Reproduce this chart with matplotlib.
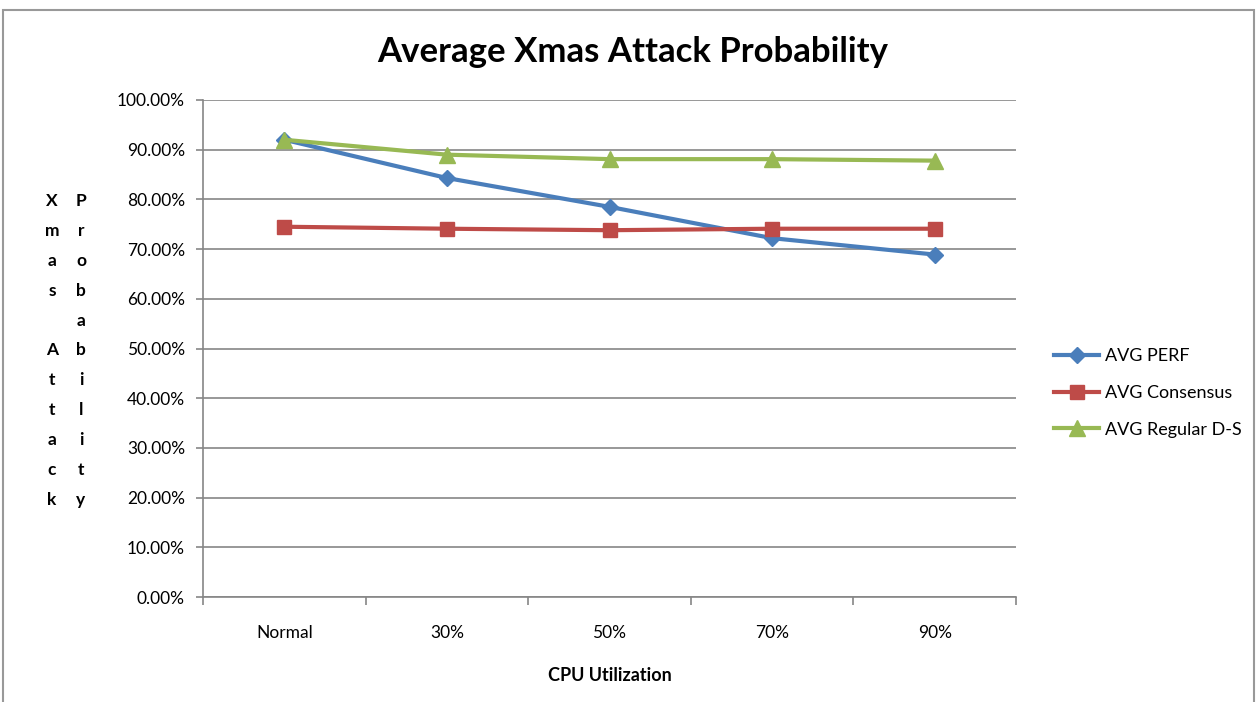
import numpy as np
import matplotlib.pyplot as plt
from matplotlib.patches import Rectangle
from matplotlib.ticker import FixedLocator, PercentFormatter

plt.rcParams['font.family'] = ['Lato', 'DejaVu Sans']

categories = ["Normal", "30%", "50%", "70%", "90%"]
avg_perf = [92.0, 84.3, 78.5, 72.2, 68.9]
avg_consensus = [74.5, 74.1, 73.8, 74.1, 74.1]
avg_regular = [92.0, 89.0, 88.1, 88.1, 87.8]

W, H = 1258, 702
fig = plt.figure(figsize=(W / 100, H / 100), dpi=100)
ax = fig.add_axes([203 / W, 1 - 597 / H, (1016 - 203) / W, (597 - 100) / H])

x = np.arange(len(categories))
ax.plot(x, avg_perf, color="#4A7EBB", lw=3, marker="D", ms=8, label="AVG PERF")
ax.plot(x, avg_consensus, color="#BE4B48", lw=3, marker="s", ms=10, label="AVG Consensus")
ax.plot(x, avg_regular, color="#98B954", lw=3, marker="^", ms=11, label="AVG Regular D-S")

ax.set_xlim(-0.5, len(categories) - 0.5)
ax.set_ylim(0, 100)
ax.set_yticks(np.arange(0, 101, 10))
ax.yaxis.set_major_formatter(PercentFormatter(decimals=2))
ax.grid(axis="y", color="#868686", lw=1.2)
ax.set_axisbelow(True)

# category labels at centres, tick marks at boundaries
ax.set_xticks(x)
ax.set_xticklabels(categories)
ax.xaxis.set_minor_locator(FixedLocator(np.arange(-0.5, len(categories), 1)))
ax.tick_params(axis="x", which="major", length=0, pad=20, labelsize=12.5)
ax.tick_params(axis="x", which="minor", length=6, color="#868686", width=1.2)
ax.tick_params(axis="y", length=5, color="#868686", width=1.2, pad=8, labelsize=12.5)

for s in ["top", "right"]:
    ax.spines[s].set_visible(False)
for s in ["left", "bottom"]:
    ax.spines[s].set_color("#868686")
    ax.spines[s].set_linewidth(1.2)

fig.text(633 / W, 1 - 52 / H, "Average Xmas Attack Probability", ha="center", va="center",
         fontsize=25, fontweight="bold")
ax.set_xlabel("CPU Utilization", fontsize=13, fontweight="bold", labelpad=19)

# stacked y-axis label, two columns
for col, word, xp in [(0, "Xmas Attack", 52), (1, "Probability", 81)]:
    for i, ch in enumerate(word):
        fig.text(xp / W, 1 - (201 + i * 29.9) / H, ch, ha="center", va="center",
                 fontsize=12.5, fontweight="bold")

fig.legend(loc="center left", bbox_to_anchor=(1038 / W, 1 - 393 / H), frameon=False,
           fontsize=13, handlelength=2.5, labelspacing=1.15, handletextpad=0.3)

fig.patches.append(Rectangle((3 / W, -0.05), (1254 - 3) / W, 1.05 - 10 / H,
                             transform=fig.transFigure, fill=False,
                             edgecolor="#999999", lw=1.5))

fig.savefig("out.png", dpi=100)
